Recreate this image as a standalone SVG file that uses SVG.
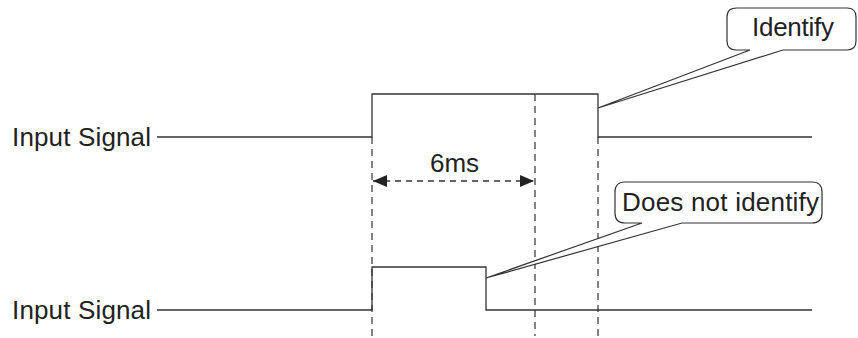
<svg xmlns="http://www.w3.org/2000/svg" width="858" height="338" viewBox="0 0 858 338">
<defs>
<style>
.lbl{font-family:"Liberation Sans",Arial,sans-serif;font-size:26px;fill:#222}
.sig{fill:none;stroke:#333;stroke-width:1.3}
.dash{fill:none;stroke:#333;stroke-width:1.2;stroke-dasharray:7 5}
.call{fill:#fff;stroke:#333;stroke-width:1.2}
</style>
<marker id="ah" viewBox="0 0 14 12" refX="14" refY="6" markerWidth="14" markerHeight="12" markerUnits="userSpaceOnUse" orient="auto-start-reverse">
<path d="M0,0 L14,6 L0,12 Z" fill="#222"/>
</marker>
</defs>
<rect width="858" height="338" fill="#fff"/>
<g id="connectors">
<line class="dash" x1="372" y1="137" x2="372" y2="336"/>
<line class="dash" x1="535" y1="94" x2="535" y2="336"/>
<line class="dash" x1="598" y1="137" x2="598" y2="336"/>
<line x1="373" y1="181" x2="534" y2="181" stroke="#333" stroke-width="1.4" stroke-dasharray="6 5" marker-start="url(#ah)" marker-end="url(#ah)"/>
</g>
<g id="signal-top">
<polyline class="sig" points="157,137 372,137 372,94 598,94 598,137 812,137"/>
<text class="lbl" x="12" y="146" textLength="139" lengthAdjust="spacing">Input Signal</text>
</g>
<g id="signal-bottom">
<polyline class="sig" points="157,310 372,310 372,267 486,267 486,310 812,310"/>
<text class="lbl" x="12" y="319" textLength="139" lengthAdjust="spacing">Input Signal</text>
</g>
<g id="label-6ms">
<text class="lbl" x="430" y="172" textLength="49" lengthAdjust="spacing">6ms</text>
</g>
<g id="callout-identify">
<path class="call" d="M737,8 L847,8 Q856,8 856,17 L856,41 Q856,50 847,50 L783,50 L598,108 L750,50 L736,50 Q727,50 727,41 L727,17 Q727,8 737,8 Z"/>
<text class="lbl" x="752" y="36" textLength="82" lengthAdjust="spacing">Identify</text>
</g>
<g id="callout-not-identify">
<path class="call" d="M625,182 L812,182 Q822,182 822,192 L822,213 Q822,223 812,223 L682,223 L486,278 L642,223 L625,223 Q615,223 615,213 L615,192 Q615,182 625,182 Z"/>
<text class="lbl" x="622" y="211" textLength="197" lengthAdjust="spacing">Does not identify</text>
</g>
</svg>
